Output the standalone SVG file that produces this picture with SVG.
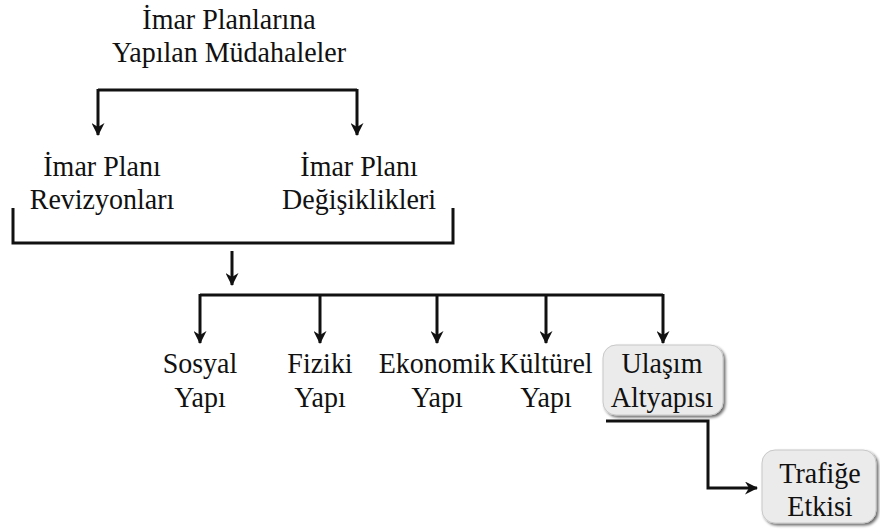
<svg xmlns="http://www.w3.org/2000/svg" width="880" height="530" viewBox="0 0 880 530">
  <defs>
    <marker id="arrow" viewBox="0 0 13 13" refX="12" refY="6.5" markerWidth="13" markerHeight="13" markerUnits="userSpaceOnUse" orient="auto">
      <path d="M0,0 L13,6.5 L0,13 L4,6.5 Z" fill="#111"/>
    </marker>
    <filter id="shadow" x="-10%" y="-10%" width="130%" height="130%">
      <feGaussianBlur in="SourceAlpha" stdDeviation="1.5"/>
      <feOffset dx="2" dy="2"/>
      <feComponentTransfer><feFuncA type="linear" slope="0.6"/></feComponentTransfer>
      <feMerge><feMergeNode/><feMergeNode in="SourceGraphic"/></feMerge>
    </filter>
  </defs>
  <style>
    text { font-family: "Liberation Serif", "Times New Roman", serif; font-size: 28px; fill: #111; text-anchor: middle;
           transform-box: fill-box; transform-origin: center; transform: scaleY(1.07); }
    .line { fill: none; stroke: #111; stroke-width: 3; }
    .arr { fill: none; stroke: #111; stroke-width: 3; marker-end: url(#arrow); }
    .box { fill: #ebebeb; stroke: #c8c8c8; stroke-width: 1; filter: url(#shadow); }
  </style>

  <rect width="880" height="530" fill="#fff"/>

  <g id="connectors">
    <!-- split from the title -->
    <path class="line" d="M98,90 H357"/>
    <path class="arr" d="M98,89 V135"/>
    <path class="arr" d="M357,89 V135"/>
    <!-- bracket merging both plan types -->
    <path class="line" d="M13,208 V243 H453 V208"/>
    <path class="arr" d="M232,251 V285"/>
    <!-- fan-out to the five impact areas -->
    <path class="line" d="M200,295 H663"/>
    <path class="arr" d="M200,294 V343"/>
    <path class="arr" d="M320,294 V343"/>
    <path class="arr" d="M437,294 V343"/>
    <path class="arr" d="M546,294 V343"/>
    <path class="arr" d="M663,294 V343"/>
    <!-- transport to traffic -->
    <path class="arr" d="M606,421 H708 V488 H757"/>
  </g>

  <g id="title">
    <text x="229" y="28">İmar Planlarına</text>
    <text x="229" y="61">Yapılan Müdahaleler</text>
  </g>

  <g id="revizyon">
    <text x="102" y="175">İmar Planı</text>
    <text x="102" y="208">Revizyonları</text>
  </g>

  <g id="degisiklik">
    <text x="359" y="175">İmar Planı</text>
    <text x="359" y="208">Değişiklikleri</text>
  </g>

  <g id="sosyal">
    <text x="200" y="372">Sosyal</text>
    <text x="200" y="406">Yapı</text>
  </g>

  <g id="fiziki">
    <text x="320" y="372">Fiziki</text>
    <text x="320" y="406">Yapı</text>
  </g>

  <g id="ekonomik">
    <text x="437" y="372">Ekonomik</text>
    <text x="437" y="406">Yapı</text>
  </g>

  <g id="kulturel">
    <text x="546" y="372">Kültürel</text>
    <text x="546" y="406">Yapı</text>
  </g>

  <g id="ulasim">
    <rect class="box" x="603" y="345" width="120" height="70" rx="13"/>
    <text x="662" y="372">Ulaşım</text>
    <text x="662" y="406">Altyapısı</text>
  </g>

  <g id="trafik">
    <rect class="box" x="762" y="450" width="114" height="73" rx="13"/>
    <text x="820" y="482">Trafiğe</text>
    <text x="820" y="515">Etkisi</text>
  </g>
</svg>
